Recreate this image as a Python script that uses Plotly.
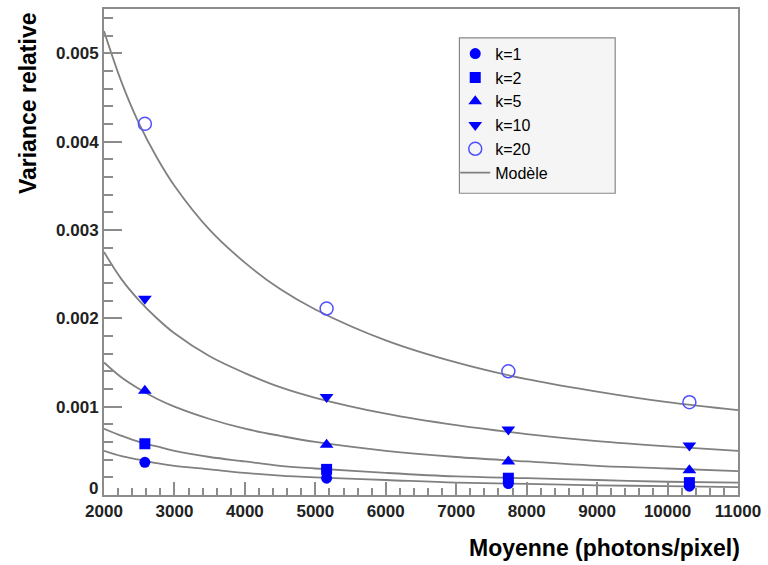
import plotly.graph_objects as go

# ---- data ----
x_points = [2580, 5160, 7740, 10310]
k_labels = ["k=1", "k=2", "k=5", "k=10", "k=20"]
y_k1 = [0.00037, 0.00019, 0.00013, 0.00010]
y_k2 = [0.00058, 0.00029, 0.00019, 0.00014]
y_k5 = [0.00118, 0.00057, 0.00038, 0.00028]
y_k10 = [0.00222, 0.00111, 0.00074, 0.00056]
y_k20 = [0.00420, 0.00211, 0.00140, 0.00105]

x_model = [2000, 2250, 2500, 2750, 3000, 3500, 4000, 4500, 5000, 6000, 7000, 8000, 9000, 10000, 11000]
model_k1 = [0.00050, 0.00044, 0.00040, 0.00036, 0.00033, 0.00029, 0.00025, 0.00022, 0.00020, 0.00017, 0.00014, 0.000125, 0.00011, 0.00010, 0.00009]
model_k2 = [0.00075, 0.00067, 0.00060, 0.00055, 0.00050, 0.00043, 0.00038, 0.00033, 0.00030, 0.00025, 0.00021, 0.00019, 0.00017, 0.00015, 0.00014]
model_k5 = [0.00150, 0.00133, 0.00120, 0.00109, 0.00100, 0.00086, 0.00075, 0.00067, 0.00060, 0.00050, 0.00043, 0.00038, 0.00033, 0.00030, 0.00027]
model_k10 = [0.00275, 0.00244, 0.00220, 0.00200, 0.00183, 0.00157, 0.00138, 0.00122, 0.00110, 0.00092, 0.00079, 0.00069, 0.00061, 0.00055, 0.00050]
model_k20 = [0.00525, 0.00467, 0.00420, 0.00382, 0.00350, 0.00300, 0.00263, 0.00233, 0.00210, 0.00175, 0.00150, 0.00131, 0.00117, 0.00105, 0.00096]

x_tickvals = [2000, 3000, 4000, 5000, 6000, 7000, 8000, 9000, 10000, 11000]
x_ticktext = ["2000", "3000", "4000", "5000", "6000", "7000", "8000", "9000", "10000", "11000"]
y_tickvals = [0.001, 0.002, 0.003, 0.004, 0.005]
y_ticktext = ["0.001", "0.002", "0.003", "0.004", "0.005"]
y_zero_label = "0"

FONT = "Liberation Sans, Arial, sans-serif"
BLUE = "#0000ff"
GRAY_LINE = "#808080"
AX = "#8c8c8c"

fig = go.Figure()

models = [model_k1, model_k2, model_k5, model_k10, model_k20]
for i, m in enumerate(models):
    fig.add_trace(go.Scatter(
        x=x_model, y=m, mode="lines", line=dict(color=GRAY_LINE, width=1.8, shape="spline"),
        name="Modèle", showlegend=(i == 0), legendrank=6, legendgroup="g6",
        hoverinfo="skip"))

series = [y_k1, y_k2, y_k5, y_k10, y_k20]
symbols = ["circle", "square", "triangle-up", "triangle-down", "circle-open"]
sizes = [11, 11, 12, 12, 13]
for i, (lab, ys, sym, sz) in enumerate(zip(k_labels, series, symbols, sizes)):
    if sym == "circle-open":
        marker = dict(symbol=sym, size=sz, color="#5050ff", line=dict(color="#5050ff", width=1.5))
    else:
        marker = dict(symbol=sym, size=sz, color=BLUE, line=dict(width=0))
    fig.add_trace(go.Scatter(
        x=x_points, y=ys, mode="markers", marker=marker, name=lab,
        legendrank=i + 1, legendgroup="g%d" % (i + 1)))

fig.update_layout(
    width=768, height=565,
    margin=dict(l=104, r=29, t=7, b=70),
    paper_bgcolor="white", plot_bgcolor="white",
    font=dict(family=FONT, color="#000"),
    showlegend=True,
    legend=dict(
        x=0.554, y=0.943, xanchor="left", yanchor="top",
        bgcolor="rgba(0,0,0,0)", borderwidth=0,
        font=dict(family=FONT, size=16, color="#000"),
        tracegroupgap=4, traceorder="normal"),
    shapes=[dict(type="rect", xref="paper", yref="paper",
                 x0=0.5606, x1=0.8063, y0=0.6209, y1=0.9406,
                 fillcolor="#f5f5f5", line=dict(color="#888888", width=1.2),
                 layer="below")],
    annotations=[
        dict(text="<b>Moyenne (photons/pixel)</b>", xref="paper", yref="paper",
             x=1.006, y=-0.1086, xanchor="right", yanchor="middle", showarrow=False,
             font=dict(family=FONT, size=23, color="#000")),
        dict(text="<b>Variance relative</b>", xref="paper", yref="paper",
             x=-0.1197, y=0.998, xanchor="center", yanchor="top", showarrow=False,
             textangle=-90, font=dict(family=FONT, size=23, color="#000")),
        dict(text="<b>%s</b>" % y_zero_label, xref="paper", yref="paper",
             x=-0.0063, y=0.0125, xanchor="right", yanchor="middle", showarrow=False,
             font=dict(family=FONT, size=17, color="#222")),
    ],
)

fig.update_xaxes(
    range=[2000, 11000], showgrid=False, zeroline=False,
    showline=True, linecolor=AX, linewidth=2, mirror=True,
    tickvals=x_tickvals, ticktext=x_ticktext,
    ticks="inside", ticklen=13, tickwidth=2, tickcolor=AX,
    tickfont=dict(family=FONT, size=17, color="#222", weight="bold"),
    minor=dict(dtick=200, tick0=2000, ticks="inside", ticklen=7, tickwidth=2, tickcolor=AX, showgrid=False),
)
fig.update_yaxes(
    range=[0, 0.0055], showgrid=False, zeroline=False,
    showline=True, linecolor=AX, linewidth=2, mirror=True,
    tickvals=y_tickvals, ticktext=y_ticktext,
    ticks="inside", ticklen=18, tickwidth=2, tickcolor=AX,
    tickfont=dict(family=FONT, size=17, color="#222", weight="bold"),
    minor=dict(dtick=0.0002, tick0=0, ticks="inside", ticklen=9, tickwidth=2, tickcolor=AX, showgrid=False),
)

fig.write_html("out.html")
